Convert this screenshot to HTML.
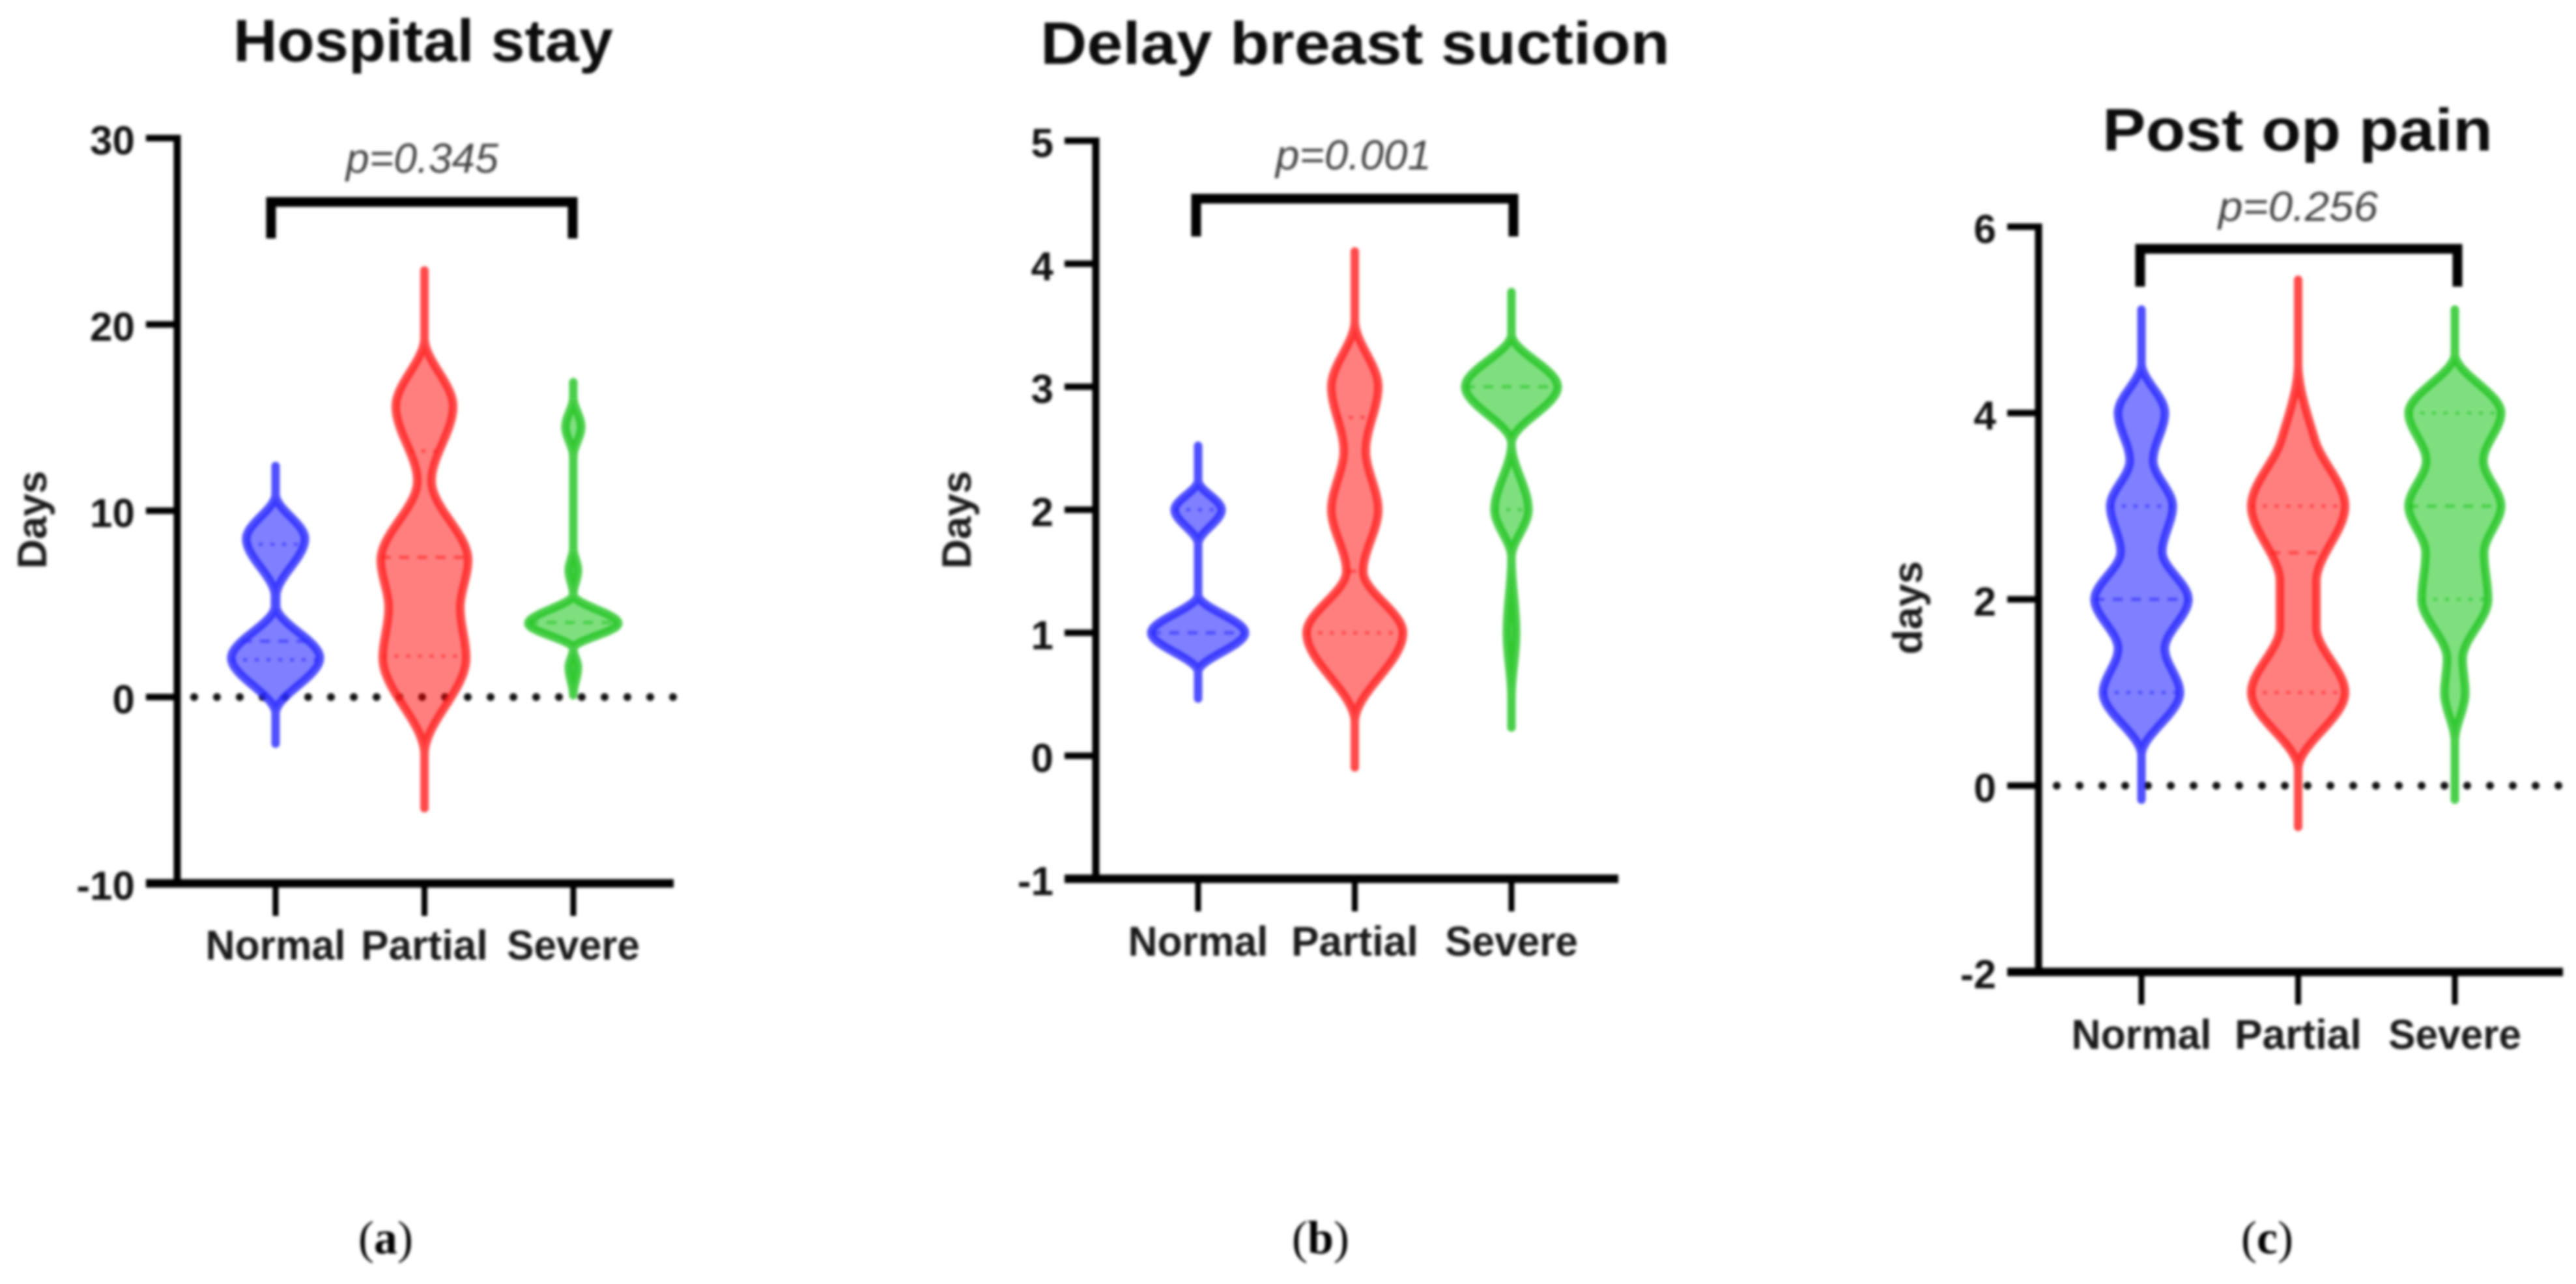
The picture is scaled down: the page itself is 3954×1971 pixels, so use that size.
<!DOCTYPE html>
<html lang="en">
<head>
<meta charset="utf-8">
<title>Violin plots: hospital stay, delay breast suction, post op pain</title>
<style>
html,body{margin:0;padding:0;background:#fff;width:3954px;height:1971px;overflow:hidden}
svg{display:block;filter:blur(2.2px)}
text{font-family:"Liberation Sans",sans-serif}
.title{font-weight:700;font-size:92px;fill:#0c0c0c}
.pval{font-style:italic;font-size:64px;fill:#444}
.tick{font-weight:700;font-size:62px;fill:#111;text-anchor:end}
.cat{font-weight:700;font-size:64px;fill:#1a1a1a;text-anchor:middle}
.ylab{font-weight:700;font-size:63px;fill:#1a1a1a;text-anchor:middle}
.cap{font-family:"Liberation Serif",serif;font-size:72px;fill:#000;text-anchor:middle}
</style>
</head>
<body>
<svg id="chart" xmlns="http://www.w3.org/2000/svg" width="3954" height="1971" viewBox="0 0 3954 1971">
  <rect width="3954" height="1971" fill="#fff"/>
  <text class="title" x="358" y="94" textLength="583" lengthAdjust="spacingAndGlyphs">Hospital stay</text>
  <text class="title" x="1597" y="98" textLength="966" lengthAdjust="spacingAndGlyphs">Delay breast suction</text>
  <text class="title" x="3227" y="231" textLength="599" lengthAdjust="spacingAndGlyphs">Post op pain</text>
  <text class="ylab" transform="translate(71 798) rotate(-90)">Days</text>
  <text class="ylab" transform="translate(1490 798) rotate(-90)">Days</text>
  <text class="ylab" transform="translate(2950 933) rotate(-90)">days</text>
  <text class="pval" x="531" y="265" textLength="234" lengthAdjust="spacingAndGlyphs">p=0.345</text>
  <text class="pval" x="1958" y="260" textLength="239" lengthAdjust="spacingAndGlyphs">p=0.001</text>
  <text class="pval" x="3405" y="339" textLength="245" lengthAdjust="spacingAndGlyphs">p=0.256</text>
  <path d="M416 366V310H879V366" fill="none" stroke="#000" stroke-width="15"/>
  <path d="M1836 363V305H2323V363" fill="none" stroke="#000" stroke-width="15"/>
  <path d="M3285 440V382H3772V440" fill="none" stroke="#000" stroke-width="15"/>
  <text class="cap" x="592" y="1924">(<tspan font-weight="700">a</tspan>)</text>
  <text class="cap" x="2027" y="1924">(<tspan font-weight="700">b</tspan>)</text>
  <text class="cap" x="3480" y="1924">(<tspan font-weight="700">c</tspan>)</text>
  <g id="plots"></g>
</svg>
<script>
/* Shared categories */
const categories = ["Normal", "Partial", "Severe"];

/* Hospital stay (panel a) */
const hospitalTicks = [-10, 0, 10, 20, 30];
const hospitalNormalValues  = [12.4, 10.9, 8.5, 5.4, 4.9, 2.1, -0.9, -2.5];
const hospitalNormalDensity = [0, 0, 0.45, 0.01, 0.01, 0.68, 0, 0];
const hospitalNormalQuartiles = [2, 3, 8.2];
const hospitalPartialValues  = [22.9, 19.3, 15.6, 11.6, 7.35, 4.8, 2.1, -3.1, -6];
const hospitalPartialDensity = [0, 0, 0.44, 0.11, 0.67, 0.55, 0.64, 0, 0];
const hospitalPartialQuartiles = [2.2, 7.5, 13.2];
const hospitalSevereValues  = [16.9, 16.1, 14.5, 12.9, 8, 6.8, 5.5, 3.95, 2.6, 1.6, 0.1];
const hospitalSevereDensity = [0, 0, 0.12, 0, 0, 0.07, 0, 0.69, 0, 0.07, 0];
const hospitalSevereQuartiles = [null, 4, null];

/* Delay breast suction (panel b) */
const suctionTicks = [-1, 0, 1, 2, 3, 4, 5];
const suctionNormalValues  = [2.52, 2.24, 2, 1.72, 1.31, 1, 0.68, 0.46];
const suctionNormalDensity = [0, 0, 0.36, 0, 0, 0.72, 0, 0];
const suctionNormalQuartiles = [null, 1, 2];
const suctionPartialValues  = [4.1, 3.54, 3, 2.48, 2, 1.5, 1, 0.27, -0.1];
const suctionPartialDensity = [0, 0, 0.36, 0.17, 0.36, 0.13, 0.74, 0, 0];
const suctionPartialQuartiles = [1, 1.5, 2.75];
const suctionSevereValues  = [3.77, 3.43, 3, 2.54, 2, 1.61, 1, 0.47, 0.23];
const suctionSevereDensity = [0, 0, 0.71, 0, 0.26, 0, 0.07, 0, 0];
const suctionSevereQuartiles = [2, 3, null];

/* Post op pain (panel c) */
const painTicks = [-2, 0, 2, 4, 6];
const painNormalValues  = [5.11, 4.54, 4, 3.49, 3, 2.51, 2, 1.47, 1, 0.32, -0.15];
const painNormalDensity = [0, 0, 0.36, 0.18, 0.48, 0.32, 0.72, 0.36, 0.59, 0, 0];
const painNormalQuartiles = [1, 2, 3];
const painPartialValues  = [5.43, 4.54, 3.71, 3, 2.19, 1.7, 1, 0.17, -0.45];
const painPartialDensity = [0, 0, 0.26, 0.72, 0.28, 0.28, 0.72, 0, 0];
const painPartialQuartiles = [1, 2.5, 3];
const painSevereValues  = [5.11, 4.64, 4, 3.49, 3, 2.5, 2, 1.36, 1, 0.47, -0.15];
const painSevereDensity = [0, 0, 0.71, 0.44, 0.71, 0.45, 0.51, 0.12, 0.16, 0, 0];
const painSevereQuartiles = [2, 3, 4];

const seriesColors = ["#2a2aff", "#ff2222", "#22c422"];
const seriesFills = ["#0000ff", "#ff0000", "#00c000"];
const seriesSlugs = ["normal", "partial", "severe"];
const SVG_NS = "http://www.w3.org/2000/svg";
const root = document.getElementById("plots");

function make(tag, attrs, parent) {
  const el = document.createElementNS(SVG_NS, tag);
  for (const k in attrs) el.setAttribute(k, attrs[k]);
  (parent || root).appendChild(el);
  return el;
}

/* Monotone cubic interpolation of density over value */
function densityAt(values, density, v) {
  const n = values.length;
  if (v >= values[0]) return density[0];
  if (v <= values[n - 1]) return density[n - 1];
  const sec = [];
  for (let i = 0; i < n - 1; i++) sec.push((density[i + 1] - density[i]) / (values[i + 1] - values[i]));
  const tan = [0];
  for (let i = 1; i < n - 1; i++) {
    tan.push(sec[i - 1] * sec[i] <= 0 ? 0 : 2 * sec[i - 1] * sec[i] / (sec[i - 1] + sec[i]));
  }
  tan.push(0);
  let i = 0;
  while (i < n - 2 && v < values[i + 1]) i++;
  const h = values[i + 1] - values[i];
  const t = (v - values[i]) / h;
  const t2 = t * t, t3 = t2 * t;
  return (2 * t3 - 3 * t2 + 1) * density[i] + (t3 - 2 * t2 + t) * h * tan[i] +
         (-2 * t3 + 3 * t2) * density[i + 1] + (t3 - t2) * h * tan[i + 1];
}

function drawPanel(p) {
  const y = v => p.yTop + (p.domain[1] - v) / (p.domain[1] - p.domain[0]) * (p.yBottom - p.yTop);
  const x = i => p.xStart + i * p.xStep;
  const w = d => Math.max(0, d) * 100;

  /* zero reference line */
  if (p.zeroLine) {
    const zero = make("line", {x1: p.zeroLine[0], x2: p.zeroLine[1], y1: y(0), y2: y(0), stroke: "#111", "stroke-width": 12, "stroke-linecap": "round", "stroke-dasharray": "0 35"});
    
    
  }

  /* violins */
  p.series.forEach((s, i) => {
    const vTop = s.values[0], vBottom = s.values[s.values.length - 1];
    const steps = Math.max(60, Math.round(y(vBottom) - y(vTop)) / 2);
    const right = [], left = [];
    for (let k = 0; k <= steps; k++) {
      const v = vTop + (vBottom - vTop) * k / steps;
      const hw = w(densityAt(s.values, s.density, v));
      right.push((x(i) + hw).toFixed(1) + " " + y(v).toFixed(1));
      left.unshift((x(i) - hw).toFixed(1) + " " + y(v).toFixed(1));
    }
    const violin = make("path", {
      d: "M" + right.join("L") + "L" + left.join("L") + "Z",
      fill: seriesFills[i], "fill-opacity": 0.5,
      stroke: seriesColors[i], "stroke-opacity": 0.82, "stroke-width": 13, "stroke-linejoin": "round"
    });
    
    

    s.quartiles.forEach((q, j) => {
      if (q === null) return;
      const hw = w(densityAt(s.values, s.density, q));
      const line = make("line", {
        x1: x(i) - hw, x2: x(i) + hw, y1: y(q), y2: y(q),
        stroke: seriesColors[i], "stroke-opacity": 0.6, "stroke-width": 5,
        "stroke-dasharray": j === 1 ? "15 13" : "6 12"
      });
      
      
    });
  });

  /* y axis */
  const yAxis = make("line", {x1: p.axisX, x2: p.axisX, y1: y(p.domain[1]) - 5, y2: p.yBottom + 6, stroke: "#000", "stroke-width": 11});
  
  
  p.ticks.forEach(t => {
    const tick = make("line", {x1: p.axisX - 48, x2: p.axisX, y1: y(t), y2: y(t), stroke: "#000", "stroke-width": 10});
    
    
    const label = make("text", {x: p.axisX - 65, y: y(t) + 25, class: "tick"});
    label.textContent = String(t);
    
    
  });

  /* x axis */
  const xAxis = make("line", {x1: p.axisX - 48, x2: p.xAxisEnd, y1: p.yBottom, y2: p.yBottom, stroke: "#000", "stroke-width": 13});
  
  
  categories.forEach((c, i) => {
    const tick = make("line", {x1: x(i), x2: x(i), y1: p.yBottom, y2: p.yBottom + 50, stroke: "#000", "stroke-width": 9});
    
    
    const label = make("text", {x: x(i), y: p.catBaseline, class: "cat"});
    label.setAttribute("textLength", [215, 195, 204][i]);
    label.setAttribute("lengthAdjust", "spacingAndGlyphs");
    label.textContent = c;
    
    
  });
}

drawPanel({
  slug: "hospital-stay", domain: [-10, 30], yTop: 212, yBottom: 1356,
  axisX: 272, xAxisEnd: 1034, xStart: 423, xStep: 228.5, catBaseline: 1473,
  zeroLine: [298, 1036], ticks: hospitalTicks,
  series: [
    {values: hospitalNormalValues, density: hospitalNormalDensity, quartiles: hospitalNormalQuartiles},
    {values: hospitalPartialValues, density: hospitalPartialDensity, quartiles: hospitalPartialQuartiles},
    {values: hospitalSevereValues, density: hospitalSevereDensity, quartiles: hospitalSevereQuartiles}
  ]
});
drawPanel({
  slug: "delay-breast-suction", domain: [-1, 5], yTop: 216, yBottom: 1349,
  axisX: 1682, xAxisEnd: 2484, xStart: 1839, xStep: 240.5, catBaseline: 1467,
  zeroLine: null, ticks: suctionTicks,
  series: [
    {values: suctionNormalValues, density: suctionNormalDensity, quartiles: suctionNormalQuartiles},
    {values: suctionPartialValues, density: suctionPartialDensity, quartiles: suctionPartialQuartiles},
    {values: suctionSevereValues, density: suctionSevereDensity, quartiles: suctionSevereQuartiles}
  ]
});
drawPanel({
  slug: "post-op-pain", domain: [-2, 6], yTop: 348, yBottom: 1492,
  axisX: 3129, xAxisEnd: 3934, xStart: 3287, xStep: 240.5, catBaseline: 1610,
  zeroLine: [3157, 3930], ticks: painTicks,
  series: [
    {values: painNormalValues, density: painNormalDensity, quartiles: painNormalQuartiles},
    {values: painPartialValues, density: painPartialDensity, quartiles: painPartialQuartiles},
    {values: painSevereValues, density: painSevereDensity, quartiles: painSevereQuartiles}
  ]
});
</script>
</body>
</html>
